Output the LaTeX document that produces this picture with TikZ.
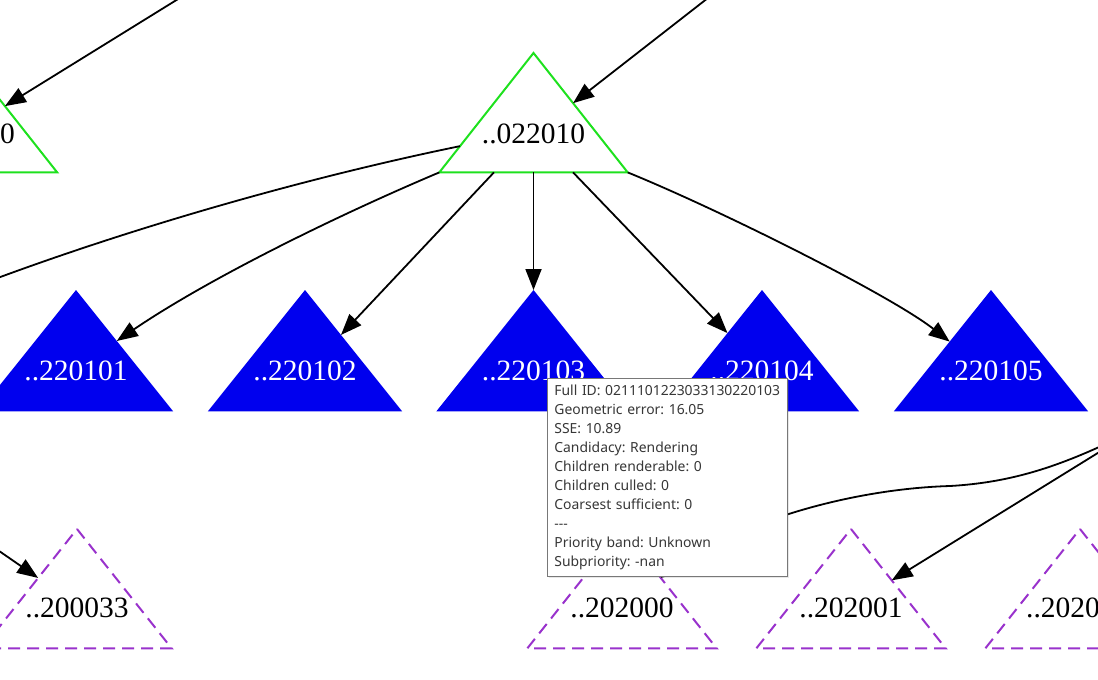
\documentclass[tikz,border=0pt]{standalone}
\usepackage{fontspec}
\setmainfont{Liberation Serif}
\newfontfamily\tipfont{Noto Sans}
\usetikzlibrary{arrows.meta,calc,backgrounds,shadows}
\definecolor{tgreen}{RGB}{30,225,30}
\definecolor{tblue}{RGB}{0,0,238}
\definecolor{tpurple}{RGB}{153,50,204}
\definecolor{tiptext}{RGB}{55,55,55}
\definecolor{tipborder}{RGB}{120,120,120}

\begin{document}
\begin{tikzpicture}[x=1pt,y=-1pt,
  trinode/.style={inner sep=0pt,anchor=north,text depth=0pt,font=\fontsize{29.5}{30}\selectfont},
  greennode/.style={trinode,minimum width=188pt,minimum height=119pt,text height=61pt},
  bluenode/.style={trinode,minimum width=194pt,minimum height=121pt,text height=59pt,text=white},
  purplenode/.style={trinode,minimum width=189pt,minimum height=119pt,text height=57pt},
  lbl/.style={inner sep=0pt,font=\fontsize{29.5}{30}\selectfont},
  greentri/.style={draw=tgreen,line width=2pt},
  bluetri/.style={fill=tblue},
  purpletri/.style={draw=tpurple,line width=2pt,dash pattern=on 12pt off 7pt},
  link/.style={-{Triangle[length=21pt,width=16pt]},line width=1.8pt},
  tooltip/.style={draw=tipborder,line width=0.8pt,fill=white,text=tiptext,
    font=\tipfont\fontsize{13.9}{19}\selectfont\frenchspacing,align=left,text width=226pt,
    inner xsep=7pt,inner ysep=0pt,minimum width=240pt,minimum height=198pt,
    anchor=north west,drop shadow={opacity=0.18,shadow xshift=2pt,shadow yshift=-2pt}}]
\useasboundingbox (0,0) rectangle (1098,680);
\clip (0,0) rectangle (1098,680);

\node[greennode] (nleft) at (-37,53) {};
\node[lbl,anchor=base east] (lleft) at (15,143) {0};
\node[greennode] (n022010) at (533.5,53) {..022010};

\node[bluenode] (n220101) at (76,290) {..220101};
\node[bluenode] (n220102) at (305,290) {..220102};
\node[bluenode] (n220103) at (533.5,290) {..220103};
\node[bluenode] (n220104) at (762,290) {..220104};
\node[bluenode] (n220105) at (991,290) {..220105};

\node[purplenode] (n200033) at (77,529) {..200033};
\node[purplenode] (n202000) at (622,529) {..202000};
\node[purplenode] (n202001) at (851,529) {..202001};
\node[purplenode] (n2020) at (1080,529) {};
\node[lbl,anchor=base west] (l2020) at (1026,617) {..2020};

\begin{scope}[on background layer]
\clip (0,0) rectangle (1098,680);
\draw[greentri] (nleft.north) -- (nleft.south east) -- (nleft.south west) -- cycle;
\draw[greentri] (n022010.north) -- (n022010.south east) -- (n022010.south west) -- cycle;
\fill[bluetri] (n220101.north) -- (n220101.south east) -- (n220101.south west) -- cycle;
\fill[bluetri] (n220102.north) -- (n220102.south east) -- (n220102.south west) -- cycle;
\fill[bluetri] (n220103.north) -- (n220103.south east) -- (n220103.south west) -- cycle;
\fill[bluetri] (n220104.north) -- (n220104.south east) -- (n220104.south west) -- cycle;
\fill[bluetri] (n220105.north) -- (n220105.south east) -- (n220105.south west) -- cycle;
\draw[purpletri] (n200033.north) -- (n200033.south east) -- (n200033.south west) -- cycle;
\draw[purpletri] (n202000.north) -- (n202000.south east) -- (n202000.south west) -- cycle;
\draw[purpletri] (n202001.north) -- (n202001.south east) -- (n202001.south west) -- cycle;
\draw[purpletri] (n2020.north) -- (n2020.south east) -- (n2020.south west) -- cycle;
\end{scope}

\coordinate (top1) at (740,-27);
\coordinate (top2) at (225,-30);
\coordinate (out1) at (-50,296);
\coordinate (in1) at (-40,524);
\coordinate (in2) at (1135,430);

\draw[link] (top1) -- ($(n022010.north)!0.42!(n022010.south east)$);
\draw[link] (top2) -- ($(nleft.north)!0.445!(nleft.south east)$);
\draw[link] ($(n022010.north)!0.78!(n022010.south west)$) .. controls (300,179) and (120,231) .. (out1);
\draw[link] (n022010.south west) .. controls (329,219) and (205,281) .. ($(n220101.north)!0.42!(n220101.south east)$);
\draw[link] ($(n022010.south west)!0.29!(n022010.south east)$) -- ($(n220102.north)!0.37!(n220102.south east)$);
\draw[link] (n022010.south) -- (n220103.north);
\draw[link] ($(n022010.south west)!0.71!(n022010.south east)$) -- ($(n220104.north)!0.355!(n220104.south west)$);
\draw[link] (n022010.south east) .. controls (720,210) and (890,295) .. ($(n220105.north)!0.425!(n220105.south west)$);
\draw[link] (in1) -- ($(n200033.north)!0.41!(n200033.south west)$);
\draw[link] (in2) .. controls (1070,462) and (1020,482) .. (950,486) .. controls (850,489) and (740,522) .. ($(n202000.north)!0.41!(n202000.south east)$);
\draw[link] (in2) -- ($(n202001.north)!0.43!(n202001.south east)$);

\node[tooltip] (info) at (547,378) {Full~ID:~0211101223033130220103\\
Geometric error: 16.05\\
SSE: 10.89\\
Candidacy: Rendering\\
Children renderable: 0\\
Children culled: 0\\
Coarsest sufficient: 0\\
-{}-{}-\\
Priority band: Unknown\\
Subpriority: -nan};
\end{tikzpicture}
\end{document}
